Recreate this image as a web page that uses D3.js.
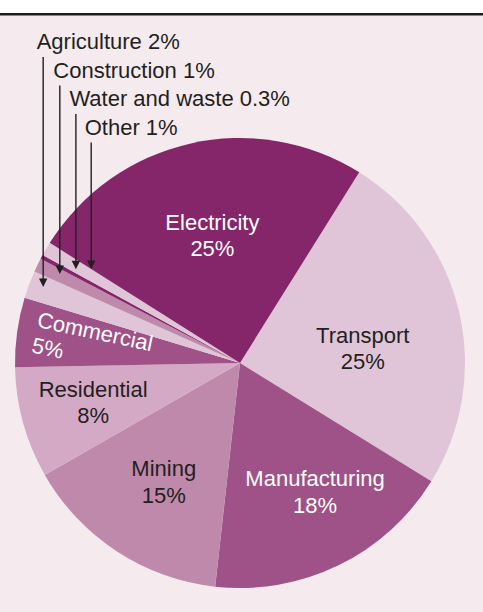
<!DOCTYPE html>
<html lang="en">
  <head>
    <meta charset="utf-8">
    <title>emissions pie</title>
    <script src="https://cdn.jsdelivr.net/npm/d3@7"></script>
    <style type="text/css">
      body { margin: 0; background: #ffffff; }
      .lbl {
        font-family: "Liberation Sans", Arial, Helvetica, sans-serif;
        font-size: 22px;
      }
    </style>
  </head>
  <body>
    <svg id="chart" width="483" height="612"></svg>
    <script type="text/javascript">
      // slices in clockwise order, starting from the Transport edge
      var sectors = ["Transport", "Manufacturing", "Mining", "Residential", "Commercial",
                     "Agriculture", "Construction", "Water and waste", "Other", "Electricity"];
      var shares = [25, 18, 15, 8, 5, 2, 1, 0.3, 1, 25];
      var shareText = ["25%", "18%", "15%", "8%", "5%", "2%", "1%", "0.3%", "1%", "25%"];
      var fills = ["#e0c5d8", "#9e5287", "#bf89ab", "#d3a9c5", "#9e5287",
                   "#e0c5d8", "#bf89ab", "#85266a", "#e0c5d8", "#85266a"];
      var labelInk = ["#231f20", "#ffffff", "#231f20", "#231f20", "#ffffff",
                      "#231f20", "#231f20", "#231f20", "#231f20", "#ffffff"];

      // small slices get a leader line from the top-left corner
      var calloutSectors = ["Agriculture", "Construction", "Water and waste", "Other"];

      // where the in-slice labels sit: radius and angle nudge (degrees)
      var inPlace = {
        "Electricity":   {r: 124, da: 0},
        "Transport":     {r: 123, da: 9.5},
        "Manufacturing": {r: 155, da: -3},
        "Mining":        {r: 147, da: -2},
        "Residential":   {r: 154, da: -2}
      };
      var tipPlace = {
        "Agriculture":     {r: 211, da: 0.7},
        "Construction":    {r: 201, da: 0.5},
        "Water and waste": {r: 189, da: 1.6},
        "Other":           {r: 176, da: 1.8}
      };

      var svg = d3.select("#chart"),
        width = +svg.attr("width"),
        height = +svg.attr("height"),
        cx = 240,
        cy = 363,
        radius = 225,
        deg = Math.PI / 180;

      // background panel + top rule
      svg.append("rect").attr("x", 0).attr("y", 14).attr("width", width).attr("height", height - 14)
        .attr("fill", "#f5ebef");
      svg.append("rect").attr("x", 0).attr("y", 13).attr("width", width).attr("height", 2.5)
        .attr("fill", "#1d1d1b");

      var data = sectors.map(function(s, i) {
        return {name: s, value: shares[i], text: shareText[i], fill: fills[i], ink: labelInk[i]};
      });

      var pie = d3.pie()
        .sort(null)
        .value(function(d) { return d.value; })
        .startAngle(32 * deg)
        .endAngle(32 * deg + 2 * Math.PI);

      var arcs = pie(data);

      var arc = d3.arc().innerRadius(0).outerRadius(radius);

      var g = svg.append("g")
        .attr("transform", "translate(" + cx + "," + cy + ")");

      g.selectAll(".slice")
        .data(arcs)
        .enter().append("path")
          .attr("class", "slice")
          .attr("d", arc)
          .attr("fill", function(d) { return d.data.fill; });

      // polar -> xy (angle measured clockwise from 12 o'clock, like d3.pie)
      var polar = function(a, r) {
        return [Math.sin(a) * r, -Math.cos(a) * r];
      };
      var midAngle = function(d) { return (d.startAngle + d.endAngle) / 2; };

      // two-line labels inside the big slices
      arcs.filter(function(d) { return inPlace[d.data.name]; }).forEach(function(d) {
        var p = inPlace[d.data.name];
        var xy = polar(midAngle(d) + p.da * deg, p.r);
        var t = g.append("text")
          .attr("class", "lbl")
          .attr("text-anchor", "middle")
          .attr("fill", d.data.ink);
        t.append("tspan").attr("x", xy[0]).attr("y", xy[1] - 12.5).text(d.data.name);
        t.append("tspan").attr("x", xy[0]).attr("y", xy[1] + 14).text(d.data.text);
      });

      // Commercial runs along its slice
      arcs.filter(function(d) { return d.data.name == "Commercial"; }).forEach(function(d) {
        var xy = polar(midAngle(d) + 2.2 * deg, 207);
        var t = g.append("text")
          .attr("class", "lbl")
          .attr("fill", d.data.ink)
          .attr("transform", "translate(" + xy[0] + "," + xy[1] + ") rotate(12)");
        t.append("tspan").attr("x", 0).attr("y", 0).text(d.data.name);
        t.append("tspan").attr("x", 0).attr("y", 26).text(d.data.text);
      });

      // callouts for the thin slices
      calloutSectors.forEach(function(name, i) {
        var d = arcs.filter(function(a) { return a.data.name == name; })[0];
        var p = tipPlace[name];
        var tip = polar(midAngle(d) + p.da * deg, p.r);
        var tx = tip[0] + cx, ty = tip[1] + cy;
        var base = 49 + i * 28.5;

        svg.append("text")
          .attr("class", "lbl")
          .attr("x", tx - 6.5)
          .attr("y", base)
          .attr("fill", "#231f20")
          .text(name + " " + d.data.text);

        svg.append("line")
          .attr("x1", tx).attr("x2", tx)
          .attr("y1", base + 8).attr("y2", ty - 7)
          .attr("stroke", "#231f20")
          .attr("stroke-width", 1.4);

        svg.append("path")
          .attr("d", "M" + (tx - 4.2) + "," + (ty - 8.5) + "L" + (tx + 4.2) + "," + (ty - 8.5) + "L" + tx + "," + ty + "Z")
          .attr("fill", "#231f20");
      });
    </script>
  </body>
</html>
